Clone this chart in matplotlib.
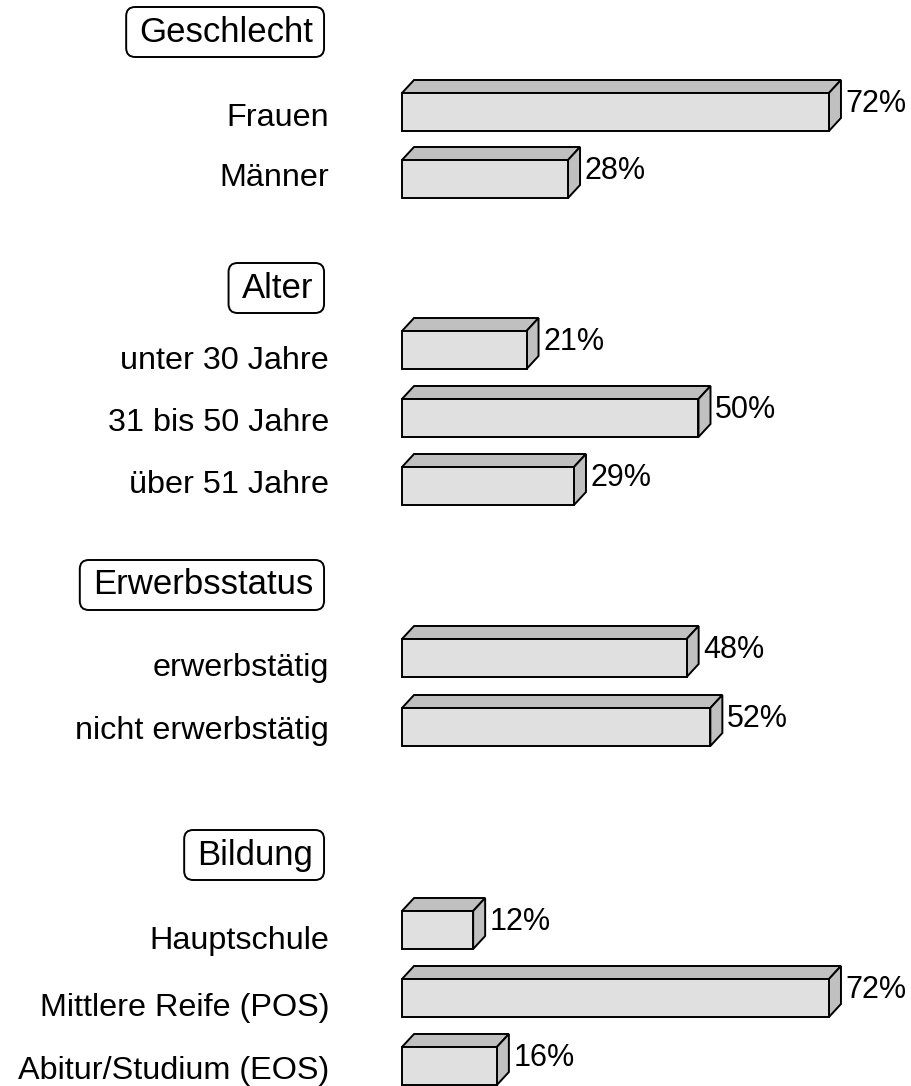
import matplotlib
matplotlib.use("Agg")
import matplotlib.pyplot as plt
from matplotlib.patches import Polygon, FancyBboxPatch
from matplotlib.transforms import IdentityTransform

plt.rcParams["font.family"] = ["Liberation Sans", "DejaVu Sans"]

# ------------------ DATEN ------------------ #
gruppen = ["Geschlecht", "Alter", "Erwerbsstatus", "Bildung"]
kategorien = ["Frauen", "Männer",
              "unter 30 Jahre", "31 bis 50 Jahre", "über 51 Jahre",
              "erwerbstätig", "nicht erwerbstätig",
              "Hauptschule", "Mittlere Reife (POS)", "Abitur/Studium (EOS)"]
anteile = [72, 28, 21, 50, 29, 48, 52, 12, 72, 16]

# ------------------ LAYOUT (y in Pixelzeilen von oben) ------------------ #
gruppe_y = [32, 288, 585, 855]
balken_y = [112, 179, 350, 418, 486, 658, 727, 930, 998, 1066]
label_y = [126, 186, 369, 431, 493, 676, 739, 949, 1016, 1079]

px_pro_prozent = 5.93
x0_px = 402
hoehe = 38
tiefe_x = 12 / px_pro_prozent
tiefe_y = 13
hell = "#e0e0e0"
dunkel = "#c0c0c0"
lw = 1.4

fig = plt.figure(figsize=(9.12, 10.86), dpi=100)
ax = fig.add_axes([0, 0, 1, 1])
ax.set_xlim(-x0_px / px_pro_prozent, (912 - x0_px) / px_pro_prozent)
ax.set_ylim(1086, 0)
ax.axis("off")

# ------------------ BALKEN ------------------ #
ax.barh(balken_y, anteile, height=hoehe, color=hell, edgecolor="black",
        linewidth=lw, zorder=3)

for y, v in zip(balken_y, anteile):
    oben = y - hoehe / 2
    unten = y + hoehe / 2
    deckel = [(0, oben), (tiefe_x, oben - tiefe_y),
              (v + tiefe_x, oben - tiefe_y), (v, oben)]
    seite = [(v, oben), (v + tiefe_x, oben - tiefe_y),
             (v + tiefe_x, unten - tiefe_y), (v, unten)]
    for pts in (deckel, seite):
        ax.add_patch(Polygon(pts, closed=True, facecolor=dunkel,
                             edgecolor="black", linewidth=lw, zorder=2))
    ax.text(v + tiefe_x + 0.8, y, f"{v}%", fontsize=22,
            ha="left", va="baseline")

# ------------------ BESCHRIFTUNGEN ------------------ #
for name, y in zip(kategorien, label_y):
    ax.text(-12.3, y, name, fontsize=23.3, ha="right", va="baseline")

titel = []
for name, y in zip(gruppen, gruppe_y):
    t = ax.text(-15.0, y, name, fontsize=25, ha="right", va="center")
    titel.append(t)

fig.canvas.draw()
for t in titel:
    bb = t.get_window_extent()
    cy = (bb.y0 + bb.y1) / 2
    box = FancyBboxPatch((bb.x0 - 13, cy - 25), bb.width + 24, 50,
                         boxstyle="round,pad=0,rounding_size=9",
                         transform=IdentityTransform(), fill=False,
                         edgecolor="black", linewidth=lw)
    fig.add_artist(box)

fig.savefig("out.png", dpi=100)
